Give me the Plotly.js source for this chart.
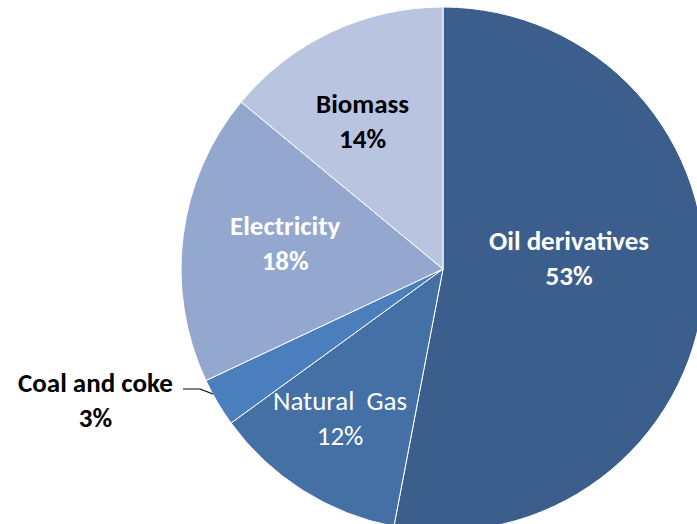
<!DOCTYPE html>
<html>
<head>
<meta charset="utf-8">
<script src="https://cdn.plot.ly/plotly-3.0.1.min.js"></script>
<style>
html,body{margin:0;padding:0;overflow:hidden;background:#fff;width:697px;height:524px;}
#chart{width:886px;height:538px;}
</style>
</head>
<body>
<div id="chart"></div>
<script>
// Data
const labels = ["Oil derivatives", "Natural Gas", "Coal and coke", "Electricity", "Biomass"];
const shares = [53, 12, 3, 18, 14];
const colors = ["#3B5E8C", "#4570A5", "#4A7EBC", "#94A7CE", "#B9C5E0"];
const textColors = ["#FFFFFF", "#FFFFFF", "#000000", "#FFFFFF", "#000000"];
const boldLabel = [true, false, true, true, true];
// label centre positions in page pixels (layout only)
const labelPos = [[569, 258], [340, 418], [95, 400], [285, 243], [362, 121]];

const FONT = "Carlito, Calibri, Lato, 'Liberation Sans', sans-serif";
const W = 886, H = 538;

const trace = {
  type: "pie",
  labels: labels,
  values: shares,
  sort: false,
  direction: "clockwise",
  rotation: 0,
  marker: {colors: colors, line: {color: "#FFFFFF", width: 1}},
  textinfo: "none",
  hoverinfo: "none",
  domain: {x: [0, 1], y: [7/H, 531/H]}
};

const annotations = labels.map((l, i) => {
  return {
    xref: "paper", yref: "paper",
    x: labelPos[i][0] / W, y: 1 - labelPos[i][1] / H,
    xanchor: "center", yanchor: "middle",
    text: boldLabel[i] ? "<b>" + l + "</b><br><b>" + shares[i] + "%</b>" : l.replace(" ", "  ") + "<br>" + shares[i] + "%",
    showarrow: false,
    align: "center",
    font: {family: FONT, size: 27, color: textColors[i]}
  };
});

const layout = {
  width: W, height: H,
  margin: {l: 0, r: 0, t: 0, b: 0},
  showlegend: false,
  paper_bgcolor: "#FFFFFF",
  font: {family: FONT},
  annotations: annotations,
  shapes: [{
    type: "path", xref: "paper", yref: "paper",
    path: "M " + (183/W) + " " + (1 - 389/H) + " L " + (200/W) + " " + (1 - 389/H) + " L " + (213/W) + " " + (1 - 394/H),
    line: {color: "#000000", width: 1.2}
  }]
};

Plotly.newPlot("chart", [trace], layout, {staticPlot: true, displayModeBar: false});
</script>
</body>
</html>
